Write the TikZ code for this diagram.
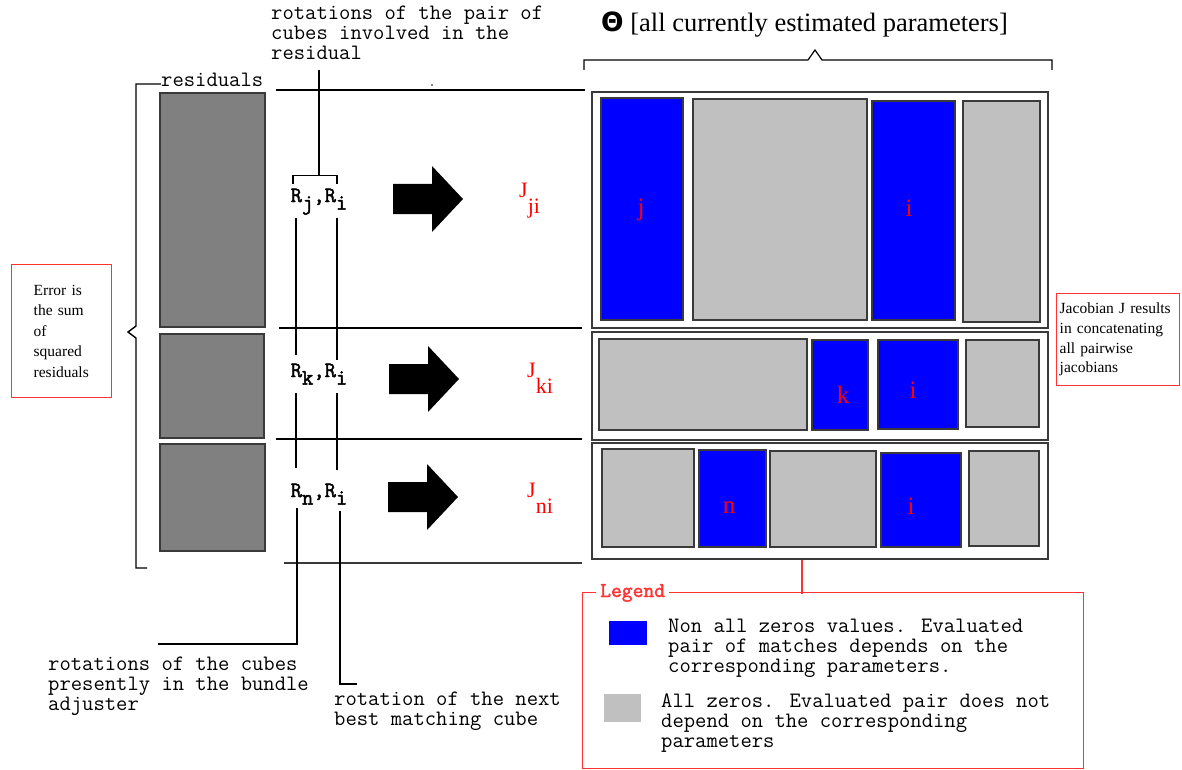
\documentclass[tikz,border=0pt]{standalone}
\usepackage{fontspec}
\setmainfont{Liberation Serif}
\newfontfamily\thetafont{DejaVu Sans}
\newfontfamily\boldmono{Latin Modern Mono}[FakeBold=2]
\usetikzlibrary{positioning}
\definecolor{nzblue}{HTML}{0000FF}
\definecolor{zerogray}{HTML}{C0C0C0}
\definecolor{resgray}{HTML}{808080}
\definecolor{edgegray}{HTML}{3A3A3A}
\definecolor{notered}{HTML}{FF3333}
\newcommand{\dn}[1]{\raisebox{-0.8ex}{#1}}
\newcommand{\jdn}[1]{\raisebox{-16pt}{#1}}
\tikzset{
    edge/.style={draw=black, line width=1.4pt},
    blk/.style={draw=edgegray, line width=1.8pt, anchor=north west, inner sep=0pt},
    nz/.style={blk, fill=nzblue},
    zero/.style={blk, fill=zerogray},
    res/.style={blk, fill=resgray},
    idx/.style={text=red, font=\fontsize{25}{25}\selectfont, inner sep=0pt},
    mono/.style={font=\fontsize{22}{20}\selectfont\ttfamily, align=left, inner sep=0pt, anchor=base west},
    rlab/.style={font=\fontsize{22}{22}\selectfont\boldmono, inner sep=0pt, anchor=base},
    jlab/.style={text=red, font=\fontsize{22}{22}\selectfont, inner sep=0pt, anchor=base west},
    note/.style={draw=notered, line width=1.4pt, font=\fontsize{15.5}{20.5}\selectfont, align=left, anchor=north west},
    legline/.style={draw=notered, line width=1.4pt},
    bigarrow/.pic={\fill[black] (0,-15) -- (39,-15) -- (39,-33) -- (70,0) -- (39,33) -- (39,15) -- (0,15) -- cycle;}
}
\begin{document}
\begin{tikzpicture}[x=1pt, y=-1pt]
\useasboundingbox (0,0) rectangle (1182,770);

\node[anchor=base west, inner sep=0pt, font=\fontsize{26.5}{26.5}\selectfont] (title) at (601,32) {{\thetafont\bfseries Θ} [all currently estimated parameters]};
\draw[edge, line width=1.2pt] (584,70) -- (584,60) -- (808,60) -- (815,50) -- (822,60) -- (1052,60) -- (1052,70);

% jacobian rows
\node[blk, minimum width=456, minimum height=236] (row1) at (591,91) {};
\node[nz, minimum width=82, minimum height=222] (b1j) at (600,97) {};
\node[zero, minimum width=174, minimum height=221] (b1z) at (692,98) {};
\node[nz, minimum width=83, minimum height=219] (b1i) at (871,100) {};
\node[zero, minimum width=77, minimum height=221] (b1w) at (962,100) {};
\node[idx] (lj) at (641,210) {j};
\node[idx] (li1) at (909,208) {i};

\node[blk, minimum width=456, minimum height=108] (row2) at (591,331) {};
\node[zero, minimum width=208, minimum height=91] (b2z) at (598,338) {};
\node[nz, minimum width=56, minimum height=90] (b2k) at (811,339) {};
\node[nz, minimum width=80, minimum height=89] (b2i) at (877,339) {};
\node[zero, minimum width=73, minimum height=87] (b2w) at (965,339) {};
\node[idx] (lk) at (843,395) {k};
\node[idx] (li2) at (913,390) {i};

\node[blk, minimum width=456, minimum height=116] (row3) at (591,442) {};
\node[zero, minimum width=92, minimum height=98] (b3z) at (601,448) {};
\node[nz, minimum width=67, minimum height=97] (b3n) at (698,449) {};
\node[zero, minimum width=106, minimum height=96] (b3y) at (769,450) {};
\node[nz, minimum width=80, minimum height=94] (b3i) at (880,452) {};
\node[zero, minimum width=70, minimum height=95] (b3w) at (968,450) {};
\node[idx] (ln) at (729,508) {n};
\node[idx] (li3) at (911,506) {i};

% residuals
\node[res, minimum width=105, minimum height=234] (r1) at (159,92) {};
\node[res, minimum width=104, minimum height=104] (r2) at (159,333) {};
\node[res, minimum width=105, minimum height=107] (r3) at (159,443) {};
\node[mono] (resl) at (161,87) {residuals};
\draw[edge] ([yshift=3pt]resl.base west) -- (136,84) -- (136,326) -- (128,332) -- (136,338) -- (136,568) -- (147,568);

\draw[edge] ([xshift=10pt,yshift=2pt]r1.north east) -- ++(309,0);
\draw[edge] ([xshift=13pt]r1.south east) -- ++(303,0);
\draw[edge] ([xshift=11pt]r2.south east) -- ++(306,0);
\draw[edge, draw=edgegray, line width=2pt] ([xshift=18pt,yshift=-11pt]r3.south east) -- ++(298,0);
\fill (432,85) circle (0.8);

% rotation pairs
\node[rlab] (rji) at (319,202) {R\dn{j},R\dn{i}};
\node[rlab] (rki) at (319,377) {R\dn{k},R\dn{i}};
\node[rlab] (rni) at (319,497) {R\dn{n},R\dn{i}};

\node[mono] (pairnote) at (271,60) {rotations of the pair of\\cubes involved in the\\residual};
\coordinate (pairtop) at (319,70);
\draw[edge] (pairtop) -- ([yshift=13pt]rji.north);
\draw[edge] ([xshift=-26pt,yshift=4pt]rji.north) -- ([xshift=-26pt,yshift=13pt]rji.north) -- ([xshift=18pt,yshift=13pt]rji.north) -- ([xshift=18pt,yshift=4pt]rji.north);

\draw[edge] ([xshift=-23pt,yshift=-3pt]rji.south) -- ([xshift=-23pt,yshift=8pt]rki.north);
\draw[edge] ([xshift=18pt,yshift=-3pt]rji.south) -- ([xshift=18pt,yshift=3pt]rki.north);
\draw[edge] ([xshift=-23pt,yshift=-8pt]rki.south) -- ([xshift=-23pt,yshift=15pt]rni.north);
\draw[edge] ([xshift=18pt,yshift=-8pt]rki.south) -- ([xshift=18pt,yshift=13pt]rni.north);

\node[mono] (cubesnote) at (48,710) {rotations of the cubes\\presently in the bundle\\adjuster};
\node[mono] (nextnote) at (334,725) {rotation of the next\\best matching cube};
\coordinate (cubesend) at (158,644);
\coordinate (nextend) at (357,684);
\draw[edge] ([xshift=-22pt,yshift=-3pt]rni.south) |- (cubesend);
\draw[edge] ([xshift=21pt,yshift=-6pt]rni.south) |- (nextend);

% arrows and pairwise jacobians
\pic (arr1) at (393,199) {bigarrow};
\pic (arr2) at (389,379) {bigarrow};
\pic (arr3) at (388,497) {bigarrow};
\node[jlab] (jji) at (519,197) {J\jdn{ji}};
\node[jlab] (jki) at (527,377) {J\jdn{ki}};
\node[jlab] (jni) at (527,497) {J\jdn{ni}};

% notes
\node[note, text width=56, inner xsep=22pt, minimum height=133] (errnote) at (11,264) {Error is\\the sum\\of\\squared\\residuals};
\node[note, text width=117, inner xsep=3pt, minimum height=92, font=\fontsize{15.5}{19.7}\selectfont] (jacnote) at (1056,293) {Jacobian J results\\in concatenating\\all pairwise\\jacobians};

% legend
\node[draw=notered, line width=1.4pt, anchor=north west, minimum width=501, minimum height=176, inner sep=0pt] (legend) at (582,592) {};
\draw[legline] ([xshift=-18pt]row3.south) -- ++(0,34);
\node[fill=white, text=notered, font=\fontsize{21}{21}\selectfont\boldmono, anchor=base west, inner xsep=4pt, inner ysep=0pt] (legtitle) at (596,597) {Legend};
\node[fill=nzblue, anchor=north west, minimum width=38, minimum height=24, inner sep=0pt] (keynz) at (609,621) {};
\node[fill=zerogray, anchor=north west, minimum width=37, minimum height=28, inner sep=0pt] (keyzero) at (604,694) {};
\node[mono] (keynztext) at (668,672) {Non all zeros values. Evaluated\\pair of matches depends on the\\corresponding parameters.};
\node[mono] (keyzerotext) at (661,747) {All zeros. Evaluated pair does not\\depend on the corresponding\\parameters};
\end{tikzpicture}
\end{document}
